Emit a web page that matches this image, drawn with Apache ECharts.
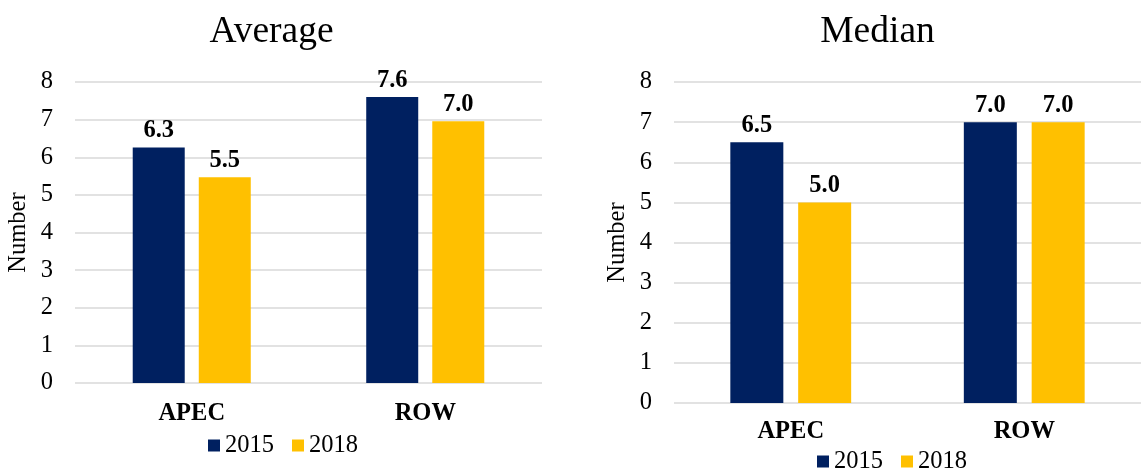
<!DOCTYPE html>
<html>
<head>
<meta charset="utf-8">
<script src="https://cdn.jsdelivr.net/npm/echarts@6/dist/echarts.min.js"></script>
<style>
html,body{margin:0;padding:0;background:#fff;}
#chart{width:1141px;height:468px;}
</style>
</head>
<body>
<div id="chart"></div>
<script>
var categories = ['APEC', 'ROW'];
var seriesNames = ['2015', '2018'];
var average2015 = [6.26, 7.6];
var average2018 = [5.47, 6.96];
var median2015 = [6.5, 7.0];
var median2018 = [5.0, 7.0];
var titles = ['Average', 'Median'];
var yAxisName = 'Number';

var FONT = '"Liberation Serif", "Times New Roman", serif';
var FS = 24.5;
var NAVY = '#002060';
var GOLD = '#FFC000';

var chart = echarts.init(document.getElementById('chart'), null, {renderer: 'canvas'});

function yAxis(gridIndex, gap) {
  return {
    type: 'value', gridIndex: gridIndex, min: 0, max: 8, interval: 1,
    name: yAxisName, nameLocation: 'middle', nameGap: gap, nameRotate: 90,
    nameTextStyle: {fontFamily: FONT, fontSize: FS, color: '#000'},
    axisLine: {show: false}, axisTick: {show: false},
    axisLabel: {fontFamily: FONT, fontSize: FS, color: '#000', margin: 22},
    splitLine: {lineStyle: {color: '#d9d9d9', width: 1.5}}
  };
}
function xAxis(gridIndex, margin) {
  return {
    type: 'category', gridIndex: gridIndex, data: categories,
    axisLine: {show: false}, axisTick: {show: false},
    axisLabel: {fontFamily: FONT, fontSize: FS, fontWeight: 'bold', color: '#000', margin: margin}
  };
}
function bar(name, data, idx, color, width, gap) {
  return {
    type: 'bar', name: name, data: data, xAxisIndex: idx, yAxisIndex: idx,
    barWidth: width, barGap: gap,
    itemStyle: {color: color},
    label: {show: true, position: 'top', distance: 4, fontFamily: FONT, fontSize: FS,
      fontWeight: 'bold', color: '#000',
      formatter: function (p) { return p.value.toFixed(1); }},
    emphasis: {disabled: true}
  };
}

chart.setOption({
  animation: false,
  title: [
    {text: titles[0], left: 266.5, top: 8, textAlign: 'center',
     textStyle: {fontFamily: FONT, fontSize: 37.5, fontWeight: 'normal', color: '#000'}},
    {text: titles[1], left: 872.5, top: 8, textAlign: 'center',
     textStyle: {fontFamily: FONT, fontSize: 37.5, fontWeight: 'normal', color: '#000'}}
  ],
  legend: [
    {data: seriesNames, left: 203, top: 428, itemWidth: 12, itemHeight: 12, itemGap: 18,
     icon: 'rect', textStyle: {fontFamily: FONT, fontSize: FS, color: '#000'}},
    {data: seriesNames, left: 812, top: 444, itemWidth: 12, itemHeight: 12, itemGap: 18,
     icon: 'rect', textStyle: {fontFamily: FONT, fontSize: FS, color: '#000'}}
  ],
  grid: [
    {left: 75, top: 82, width: 467, height: 301},
    {left: 674, top: 82, width: 478, height: 321}
  ],
  xAxis: [xAxis(0, 18), xAxis(1, 16)],
  yAxis: [yAxis(0, 44), yAxis(1, 44)],
  series: [
    bar(seriesNames[0], average2015, 0, NAVY, 52, '27%'),
    bar(seriesNames[1], average2018, 0, GOLD, 52, '27%'),
    bar(seriesNames[0], median2015, 1, NAVY, 53, '28%'),
    bar(seriesNames[1], median2018, 1, GOLD, 53, '28%')
  ]
});
</script>
</body>
</html>
